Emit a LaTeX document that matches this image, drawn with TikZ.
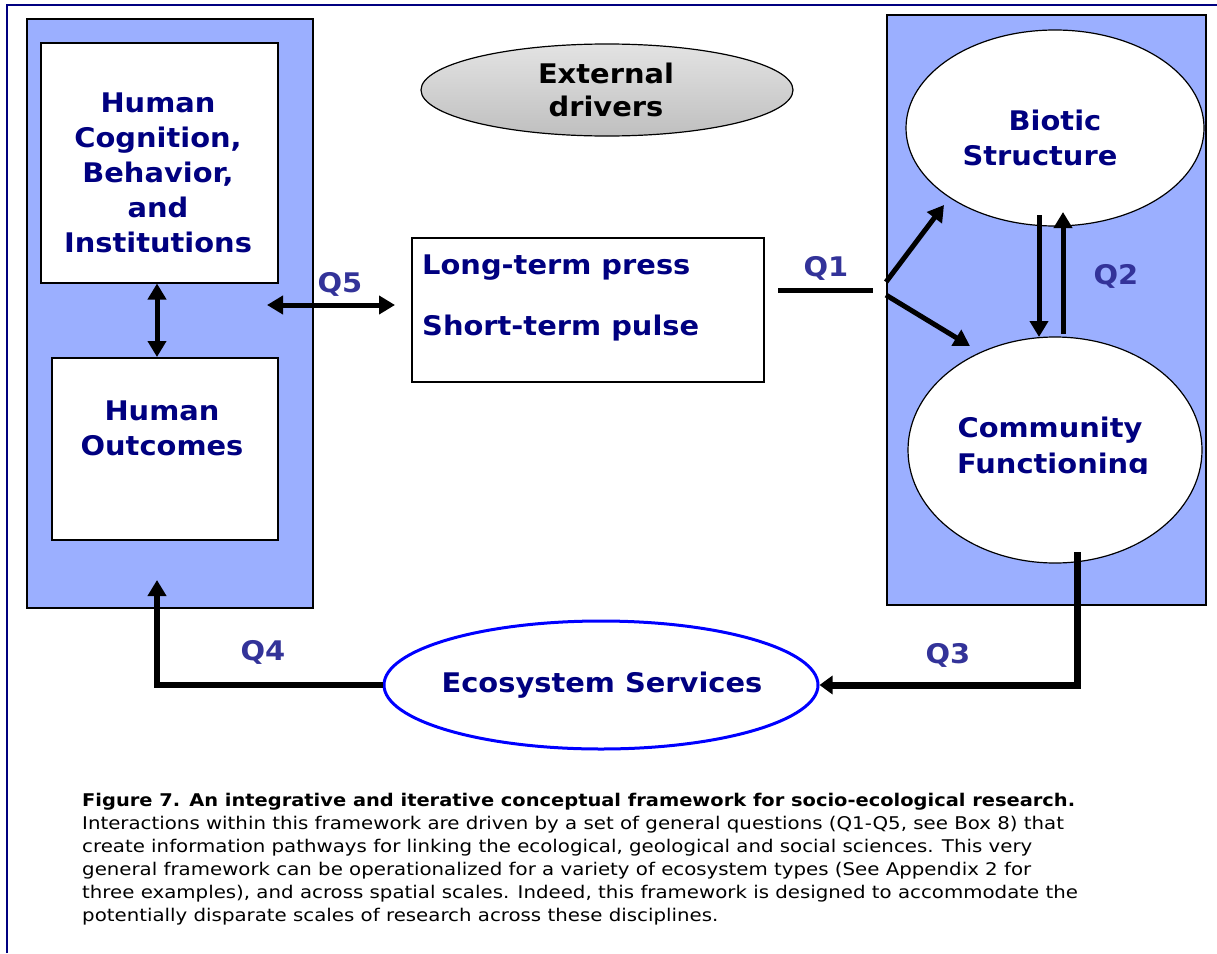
\documentclass[tikz,border=0pt]{standalone}
\usepackage{fontspec}
\setmainfont{DejaVu Sans}[FakeStretch=1.07]
\newfontfamily\capfont{DejaVu Sans}[FakeStretch=1.13]
\newfontfamily\capbfont{DejaVu Sans Bold}[FakeStretch=1.11]
\usetikzlibrary{shapes.geometric,arrows.meta,calc}
\definecolor{navy}{RGB}{0,0,128}
\definecolor{qblue}{RGB}{51,51,153}
\definecolor{panel}{RGB}{155,175,255}
\definecolor{ebl}{RGB}{0,0,255}
\begin{document}
\begin{tikzpicture}[x=1pt,y=-1pt,
  lbl/.style={font=\fontsize{27}{35}\selectfont\bfseries, text=navy, align=center, inner sep=0},
  qlbl/.style={font=\fontsize{27}{32}\selectfont\bfseries, text=qblue, inner sep=0},
  panelbox/.style={draw=black, line width=1.5, fill=panel, inner sep=0, anchor=north west},
  wbox/.style={draw=black, line width=1.5, fill=white, inner sep=0, anchor=north west},
  ell/.style={ellipse, draw=black, line width=1.2, fill=white, inner sep=0},
  arr/.style={line width=5, -{Triangle[length=16,width=18]}},
  darr/.style={line width=5, {Triangle[length=16,width=18]}-{Triangle[length=16,width=18]}},
  captxt/.style={font=\capfont\fontsize{17.5}{23}\selectfont, anchor=base west, inner sep=0, text=black},
]
\useasboundingbox (0,0) rectangle (1217,953);
\fill[white] (0,0) rectangle (1217,953);
% outer frame
\draw[navy, line width=2.5] (7,953) -- (7,5) -- (1217,5);

% panels
\node[panelbox, minimum width=286, minimum height=589] (lp) at (26,18) {};
\node[panelbox, minimum width=319, minimum height=590] (rp) at (886,14) {};

% left boxes
\node[wbox, minimum width=237, minimum height=240] (hc) at (40,42) {};
\node[wbox, minimum width=226, minimum height=182] (ho) at (51,357) {};
\node[lbl] (hct) at (158,173) {Human\\Cognition,\\Behavior,\\and\\Institutions};
\node[lbl] (hot) at (162,428) {Human\\Outcomes};

% middle box
\node[wbox, minimum width=352, minimum height=144] (pr) at (411,237) {};
\node[lbl, anchor=west] (lp1) at (422,268) {Long-term press};
\node[lbl, anchor=west] (lp2) at (422,328) {Short-term pulse};

% external drivers
\node[ellipse, draw=black, line width=1.2, top color=gray!22, bottom color=gray!50,
      minimum width=372, minimum height=92, inner sep=0] (ext) at (607,90) {};
\node[lbl, text=black, font=\fontsize{27}{33}\selectfont\bfseries] (extt) at (606,90) {External\\drivers};

% right ellipses
\node[ell, minimum width=298, minimum height=196] (bio) at (1055,128) {};
\node[lbl] (biot1) at (1055,120) {Biotic};
\node[lbl] (biot2) at (1040,156) {Structure};
\node[ell, minimum width=294, minimum height=226] (com) at (1055,450) {};
\node[lbl, anchor=base] (comt1) at (1050,437) {Community};
\begin{scope}
\clip (900,440) rectangle (1210,473.5);
\node[lbl, anchor=base] (comt2) at (1053,473) {Functioning};
\end{scope}

% ecosystem services
\node[ellipse, draw=ebl, line width=3, fill=white, minimum width=434, minimum height=128, inner sep=0] (eco) at (601,685) {};
\node[lbl] (ecot) at (602,685) {Ecosystem Services};

% connectors
\draw[darr] (hc.south -| 157,0) -- (ho.north -| 157,0);
\coordinate (q5a) at (267,305);
\coordinate (q5b) at (395,305);
\draw[darr] (q5a) -- (q5b);
\node[qlbl] (q5) at (340,284) {Q5};

\coordinate (q1a) at (778,290);
\coordinate (q1b) at (873,290);
\draw[line width=5] (q1a) -- (q1b);
\node[qlbl] (q1) at (826,268) {Q1};
\coordinate (s1) at (886,282);
\coordinate (s2) at (886,295);
\coordinate (t1) at (944,205);
\coordinate (t2) at (970,346);
\draw[arr] (s1) -- (t1);
\draw[arr] (s2) -- (t2);

\coordinate (d1) at (1039,215);
\coordinate (d2) at (1039,337);
\coordinate (u1) at (1063,334);
\coordinate (u2) at (1063,212);
\draw[arr] (d1) -- (d2);
\draw[arr] (u1) -- (u2);
\node[qlbl] (q2) at (1116,276) {Q2};

\coordinate (q3s) at (1077,552);
\draw[line width=7, -{Triangle[length=13,width=18]}] (q3s) |- (eco.east);
\node[qlbl] (q3) at (948,655) {Q3};

\coordinate (q4t) at (157,580);
\draw[line width=5.5, -{Triangle[length=16,width=18]}] (eco.west) -| (q4t);
\node[qlbl] (q4) at (263,652) {Q4};

% caption
\node[captxt, font=\capbfont\fontsize{17.5}{23}\selectfont] (c1) at (82,806) {Figure 7. An integrative and iterative conceptual framework for socio-ecological research.};
\node[captxt] (c2) at (82,829) {Interactions within this framework are driven by a set of general questions (Q1-Q5, see Box 8) that};
\node[captxt] (c3) at (82,852) {create information pathways for linking the ecological, geological and social sciences. This very};
\node[captxt] (c4) at (82,875) {general framework can be operationalized for a variety of ecosystem types (See Appendix 2 for};
\node[captxt] (c5) at (82,898) {three examples), and across spatial scales. Indeed, this framework is designed to accommodate the};
\node[captxt] (c6) at (82,921) {potentially disparate scales of research across these disciplines.};
\end{tikzpicture}
\end{document}
